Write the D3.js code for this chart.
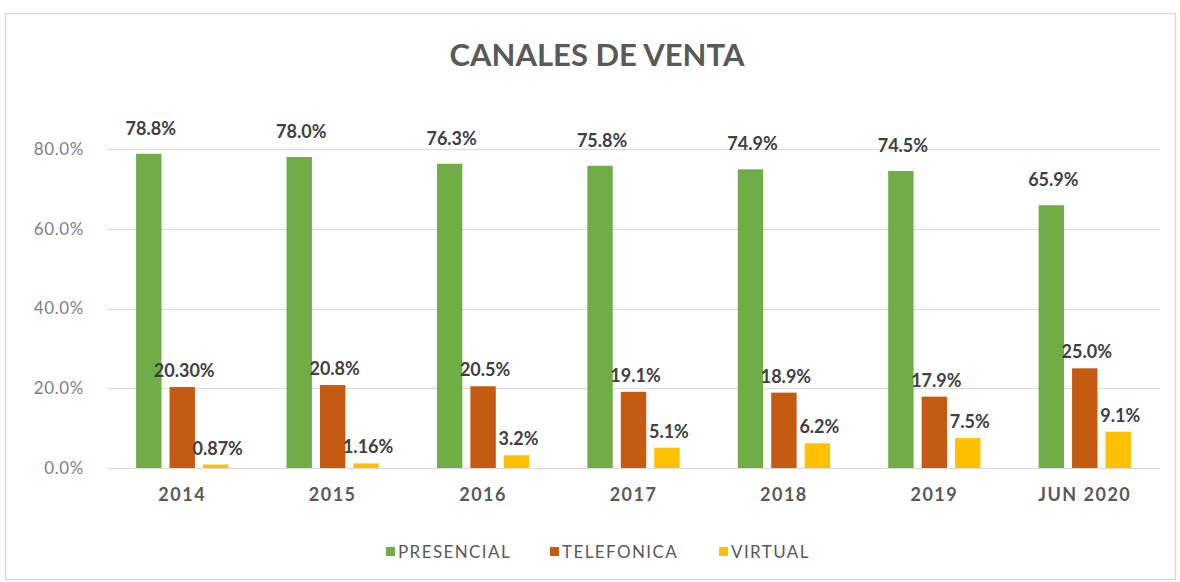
<!DOCTYPE html>
<html>
  <head>
    <meta charset="utf-8">
    <title>Canales de venta</title>
    <style>
      body{margin:0; background:#fff;}
      svg{display:block; font-family: Lato, "Open Sans", sans-serif;}
    </style>
    <script src="https://d3js.org/d3.v7.min.js"></script>
  </head>
  <body>
    <script>

        var categories = ["2014", "2015", "2016", "2017", "2018", "2019", "JUN 2020"];
        var seriesNames = ["PRESENCIAL", "TELEFONICA", "VIRTUAL"];
        var presencial = [78.8, 78.0, 76.3, 75.8, 74.9, 74.5, 65.9];
        var telefonica = [20.3, 20.8, 20.5, 19.1, 18.9, 17.9, 25.0];
        var virtual = [0.87, 1.16, 3.2, 5.1, 6.2, 7.5, 9.1];
        var presencialLabels = ["78.8%", "78.0%", "76.3%", "75.8%", "74.9%", "74.5%", "65.9%"];
        var telefonicaLabels = ["20.30%", "20.8%", "20.5%", "19.1%", "18.9%", "17.9%", "25.0%"];
        var virtualLabels = ["0.87%", "1.16%", "3.2%", "5.1%", "6.2%", "7.5%", "9.1%"];
        var yTicks = [0, 20, 40, 60, 80];

        var width = 1180, height = 582;
        var colors = {PRESENCIAL: "#70ad47", TELEFONICA: "#c55a11", VIRTUAL: "#ffc000"};
        // label lift above the bar top, per series
        var lift = {PRESENCIAL: 19, TELEFONICA: 10, VIRTUAL: 10};

        var series = [
            {name: "PRESENCIAL", values: presencial, labels: presencialLabels},
            {name: "TELEFONICA", values: telefonica, labels: telefonicaLabels},
            {name: "VIRTUAL", values: virtual, labels: virtualLabels}
        ];

        var svg = d3.select("body").append("svg")
            .attr("width", width)
            .attr("height", height);

        // chart frame
        svg.append("rect")
            .attr("x", 5.5).attr("y", 13.5)
            .attr("width", 1170).attr("height", 566)
            .attr("fill", "#fff")
            .attr("stroke", "#d9d9d9")
            .attr("stroke-width", 1.5);

        svg.append("text")
            .attr("x", 597).attr("y", 66)
            .attr("text-anchor", "middle")
            .style("font-size", "31px")
            .style("font-weight", "bold")
            .style("fill", "#595959")
            .text("CANALES DE VENTA");

        var x0 = d3.scaleBand()
            .domain(categories)
            .range([107, 1160])
            .paddingInner(0.333)
            .paddingOuter(0.1667);

        var x1 = d3.scaleBand()
            .domain(seriesNames)
            .range([0, x0.bandwidth()])
            .paddingInner(0.24)
            .paddingOuter(0.12);

        var y = d3.scaleLinear()
            .domain([0, 80])
            .range([468, 149]);

        // gridlines
        svg.append("g").selectAll("line").data(yTicks)
            .enter().append("line")
            .attr("x1", 107).attr("x2", 1160)
            .attr("y1", function (d) { return Math.round(y(d)) + 0.5; })
            .attr("y2", function (d) { return Math.round(y(d)) + 0.5; })
            .attr("stroke", "#d9d9d9")
            .attr("stroke-width", 1.2);

        var yAxis = svg.append("g")
            .attr("transform", "translate(100,0)")
            .call(d3.axisLeft(y).tickValues(yTicks).tickSize(0).tickPadding(16)
                .tickFormat(function (d) { return d.toFixed(1) + "%"; }));
        yAxis.select(".domain").remove();
        yAxis.selectAll("text")
            .style("font-family", "Lato, sans-serif")
            .style("font-size", "17px")
            .style("letter-spacing", "0.6px")
            .style("fill", "#7f7f7f");

        var xAxis = svg.append("g")
            .attr("transform", "translate(0,468)")
            .call(d3.axisBottom(x0).tickSize(0).tickPadding(20));
        xAxis.select(".domain").remove();
        xAxis.selectAll("text")
            .style("font-family", "Lato, sans-serif")
            .style("font-size", "18px")
            .style("font-weight", "bold")
            .style("letter-spacing", "1.5px")
            .style("fill", "#595959");

        var groups = svg.append("g").selectAll("g").data(series)
            .enter().append("g");

        groups.selectAll("rect")
            .data(function (s) {
                return s.values.map(function (v, i) { return {name: s.name, cat: categories[i], value: v}; });
            })
            .enter().append("rect")
            .attr("x", function (d) { return x0(d.cat) + x1(d.name); })
            .attr("width", x1.bandwidth())
            .attr("y", function (d) { return y(d.value); })
            .attr("height", function (d) { return y(0) - y(d.value); })
            .attr("fill", function (d) { return colors[d.name]; });

        groups.selectAll("text")
            .data(function (s) {
                return s.values.map(function (v, i) { return {name: s.name, cat: categories[i], value: v, label: s.labels[i]}; });
            })
            .enter().append("text")
            .attr("x", function (d) { return x0(d.cat) + x1(d.name) + x1.bandwidth() / 2 + 2; })
            .attr("y", function (d) { return y(d.value) - lift[d.name]; })
            .attr("text-anchor", "middle")
            .style("font-size", "18px")
            .style("font-weight", "bold")
            .style("fill", "#404040")
            .text(function (d) { return d.label; });

        // legend
        var legendX = [386, 550, 719];
        var legend = svg.append("g").selectAll("g").data(seriesNames)
            .enter().append("g")
            .attr("transform", function (d, i) { return "translate(" + legendX[i] + ",552)"; });
        legend.append("rect")
            .attr("x", 0).attr("y", -5)
            .attr("width", 9).attr("height", 9)
            .attr("fill", function (d) { return colors[d]; });
        legend.append("text")
            .attr("x", 12).attr("y", 6)
            .style("font-size", "17px")
            .style("letter-spacing", "1.4px")
            .style("fill", "#595959")
            .text(function (d) { return d; });

    </script>
  </body>
</html>
